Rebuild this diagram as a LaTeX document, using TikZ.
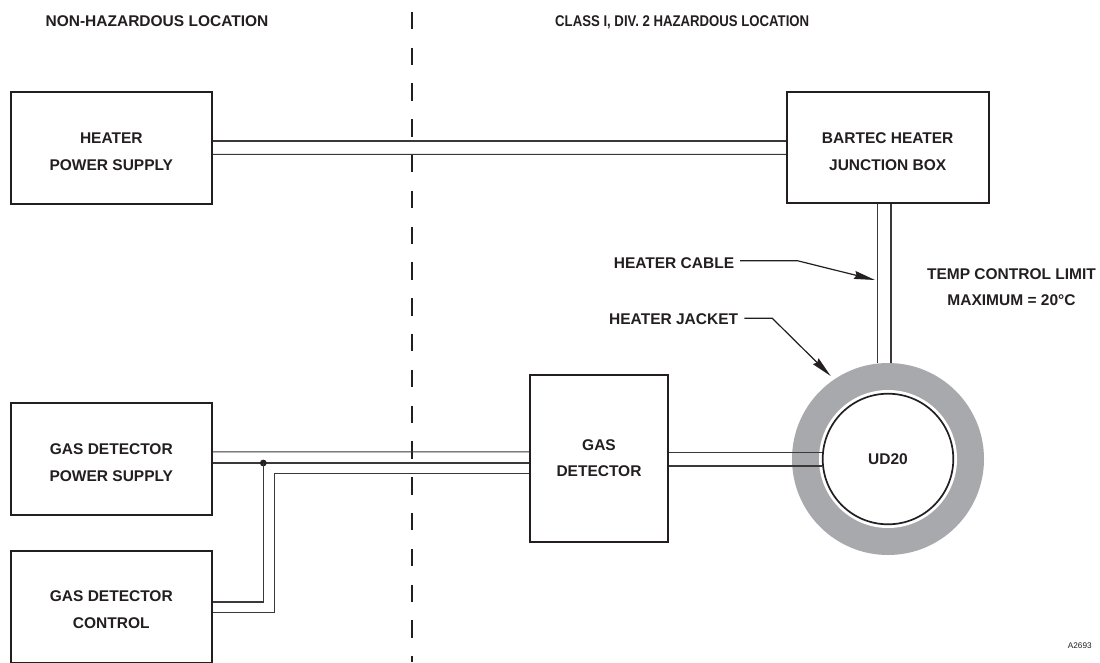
\documentclass[tikz,border=0pt]{standalone}
\usepackage{graphicx}
\usepackage{fontspec}
\setmainfont{Liberation Sans}
\usetikzlibrary{arrows.meta,calc}
\definecolor{ink}{HTML}{231F20}
\definecolor{wirec}{HTML}{3A3839}
\definecolor{jacketgray}{HTML}{A7A9AC}
\begin{document}
\begin{tikzpicture}[x=1pt,y=-1pt,
 box/.style={draw=ink,line width=1.7pt,inner sep=0pt},
 txt/.style={font=\bfseries\fontsize{15.5}{26.7}\selectfont,align=center,inner sep=0pt,text=ink},
 hdr/.style={font=\bfseries\fontsize{15.5}{18}\selectfont,inner sep=0pt,text=ink},
 wire/.style={draw=wirec,line width=1.1pt},
 lead/.style={draw=ink,line width=1.2pt,-{Stealth[length=21pt,width=8pt,inset=2pt]}},
 divider/.style={draw=ink,line width=2.3pt,dash pattern=on 17.5pt off 18.3pt}]
\useasboundingbox[fill=white] (0,0) rectangle (1100,662);

% divider
\coordinate (dtop) at (411.7,11.7);
\coordinate (dbot) at (411.7,662);
\draw[divider] (dtop) -- (dbot);

% headings
\node[hdr,anchor=base] (nonhaz) at (157,26) {NON-HAZARDOUS LOCATION};
\node[hdr,anchor=base west] (haz) at (555,26) {\scalebox{0.85}[1]{CLASS I, DIV. 2 HAZARDOUS LOCATION}};

% boxes
\node[box,minimum width=200.7pt,minimum height=111.7pt] (hps) at (111.35,148.15) {};
\node[box,minimum width=202.3pt,minimum height=111pt] (bjb) at (887.85,147.8) {};
\node[box,minimum width=200.7pt,minimum height=111.7pt] (gdps) at (111.35,459.15) {};
\node[box,minimum width=200.7pt,minimum height=111.7pt] (gdc) at (111.35,606.85) {};
\node[box,minimum width=138pt,minimum height=167pt] (gd) at (599,458.5) {};

% box texts
\node[txt] (hpst) at (111.3,151.7) {HEATER\\POWER SUPPLY};
\node[txt] (bjbt) at (887.7,151.7) {BARTEC HEATER\\JUNCTION BOX};
\node[txt] (gdpst) at (111.3,463) {GAS DETECTOR\\POWER SUPPLY};
\node[txt] (gdct) at (111.3,609.5) {GAS DETECTOR\\CONTROL};
\node[txt] (gdt) at (599,458.3) {GAS\\DETECTOR};
\node[txt] (tempt) at (1011.5,287.3) {TEMP CONTROL LIMIT\\MAXIMUM = 20°C};

% UD20 with heater jacket
\node[circle,fill=jacketgray,minimum size=192pt,inner sep=0pt] (jacket) at (888,459) {};
\node[circle,fill=white,minimum size=138pt,inner sep=0pt] (gap) at (888,459) {};
\node[circle,draw=ink,fill=white,line width=1.7pt,minimum size=130.6pt,inner sep=0pt,
      font=\bfseries\fontsize{15.5}{18}\selectfont,text=ink] (ud) at (888,459) {UD20};

% heater supply cable
\draw[wire] ($(hps.east)+(0,-7.15)$) -- ($(bjb.west)+(0,-6.8)$);
\draw[wire] ($(hps.east)+(0,6.15)$) -- ($(bjb.west)+(0,6.5)$);

% heater cable down to jacket
\draw[wire] ($(bjb.south)+(-10.55,0)$) -- ($(jacket.north)+(-10.7,0.6)$);
\draw[wire] ($(bjb.south)+(3.15,0)$) -- ($(jacket.north)+(3,0.05)$);

% gas detector to UD20
\draw[wire] ($(gd.east)+(0,-6.2)$) -- ($(ud.west)+(0.35,-6.7)$);
\draw[wire] ($(gd.east)+(0,7.5)$) -- ($(ud.west)+(0.4,7)$);

% gas detector power supply / control wiring
\draw[wire] ($(gdps.east)+(0,-7.35)$) -- ($(gd.west)+(0,-6.7)$);
\draw[wire] ($(gdps.east)+(0,3.85)$) -- ($(gd.west)+(0,4.5)$);
\coordinate (j) at (263.3,463);
\fill[ink] (j) circle (3.4);
\draw[wire] (j) |- ($(gdc.east)+(0,-4.85)$);
\draw[wire] ($(gd.west)+(0,15.2)$) -| ($(gdc.east)+(62.3,5.65)$) -- ($(gdc.east)+(0,5.65)$);

% leader labels
\node[txt,anchor=east] (hcl) at (734.3,263.3) {HEATER CABLE};
\coordinate (hctip) at (875,280);
\draw[lead] ($(hcl.east)+(5.7,-2.6)$) -- ++(57.3,0) -- (hctip);

\node[txt,anchor=east] (hjl) at (738.3,319.5) {HEATER JACKET};
\coordinate (hjtip) at (830.7,376);
\draw[lead] ($(hjl.east)+(6,-1.2)$) -- ++(28,0) -- (hjtip);

% drawing number
\node[font=\fontsize{8.2}{10}\selectfont,inner sep=0pt,text=ink] (code) at (1079.8,645.7) {A2693};
\end{tikzpicture}
\end{document}
